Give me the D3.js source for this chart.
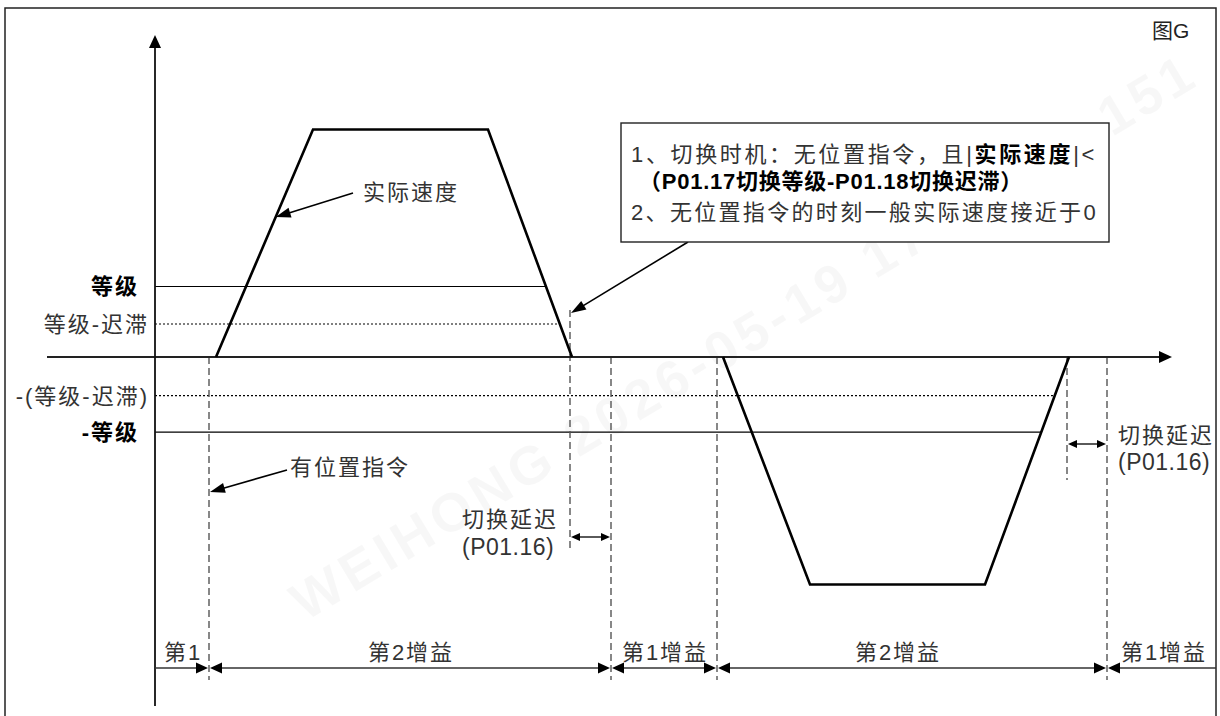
<!DOCTYPE html>
<html><head><meta charset="utf-8">
<script src="https://cdn.jsdelivr.net/npm/d3@7"></script>
<style>
html,body{margin:0;padding:0;background:#fff;}
svg{display:block;}
text{font-family:"Liberation Sans","Noto Sans CJK SC",sans-serif;}
</style></head><body>
<svg id="c" width="1220" height="716"></svg>
<script>
// ---------------- data ----------------
const speedPositive = [[6.1,0],[15.8,100],[33.3,100],[41.7,0]];
const speedNegative = [[56.8,0],[65.5,-100],[83.0,-100],[91.4,0]];
const levelValues  = [31, 14.5, -17, -33];
const levelLabels  = ["等级","等级-迟滞","-(等级-迟滞)","-等级"];
const levelBold    = [true,false,false,true];
const levelDotted  = [false,true,true,false];
const eventTimes   = [5.4, 41.5, 45.6, 56.2, 91.2, 95.2];
const gainBounds   = [0, 5.4, 45.6, 56.2, 95.2, 106.1];
const gainLabels   = ["第1","第2增益","第1增益","第2增益","第1增益"];
const gainLabelTimes = [2.7, 25.5, 50.9, 74.2, 100.8];
const delaySpans   = [[41.5,45.6],[91.2,95.2]];
const delayLabel   = ["切换延迟","(P01.16)"];
const noteLines    = [
  [["1、切换时机：无位置指令，且|",false],["实际速度",true],["|<",false]],
  [["（P01.17切换等级-P01.18切换迟滞）",true]],
  [["2、无位置指令的时刻一般实际速度接近于0",false]]
];
const speedLabel = "实际速度";
const cmdLabel = "有位置指令";
const figLabel = "图G";
const watermarkText = "WEIHONG 2026-05-19 17:26:46.151";

// ---------------- layout ----------------
const svg = d3.select("#c");
const x = d3.scaleLinear().domain([0,100]).range([155,1155]);
const y = d3.scaleLinear().domain([-100,100]).range([584.5,129.5]);
const TXT = "#333";

function head(g, tip, from, len, hw){
  const dx = tip[0]-from[0], dy = tip[1]-from[1];
  const L = Math.hypot(dx,dy), ux = dx/L, uy = dy/L, nx = -uy, ny = ux;
  const bx = tip[0]-len*ux, by = tip[1]-len*uy;
  g.append("path").attr("d",`M${tip[0]},${tip[1]}L${bx+hw*nx},${by+hw*ny}L${bx-hw*nx},${by-hw*ny}Z`).attr("fill","#000");
}
function arrow(g, from, tip, len, hw, sw){
  const dx = tip[0]-from[0], dy = tip[1]-from[1], L=Math.hypot(dx,dy);
  const end = [tip[0]-dx/L*(len-2), tip[1]-dy/L*(len-2)];
  g.append("line").attr("x1",from[0]).attr("y1",from[1]).attr("x2",end[0]).attr("y2",end[1])
    .attr("stroke","#000").attr("stroke-width",sw);
  head(g, tip, from, len, hw);
}

// watermark (very faint)
svg.append("text").attr("transform","translate(305,622) rotate(-31)")
  .attr("fill","#000").attr("fill-opacity",0.03)
  .attr("font-size",54).attr("font-weight","bold").attr("letter-spacing",5)
  .text(watermarkText);

// outer border
svg.append("rect").attr("x",5).attr("y",8).attr("width",1211).attr("height",760)
  .attr("fill","none").attr("stroke","#222").attr("stroke-width",1.5);

// level lines (end where curve crosses them last)
const curves = [speedPositive, speedNegative];
function lastCross(v){
  let best = 0;
  curves.forEach(c=>{
    for(let i=0;i<c.length-1;i++){
      const [t0,v0]=c[i],[t1,v1]=c[i+1];
      if((v-v0)*(v-v1)<=0 && v0!==v1){
        const t = t0+(v-v0)/(v1-v0)*(t1-t0);
        if(t>best) best=t;
      }
    }
  });
  return best;
}
const lv = svg.append("g");
levelValues.forEach((v,i)=>{
  lv.append("line").attr("x1",x(0)).attr("x2",x(lastCross(v)))
    .attr("y1",y(v)).attr("y2",y(v)).attr("stroke","#000")
    .attr("stroke-width",levelDotted[i]?1.2:1.1)
    .attr("stroke-dasharray",levelDotted[i]?"2,2":null);
  const isNorm = !levelBold[i];
  lv.append("text").attr("x", isNorm?149:139).attr("y",y(v)).attr("dy","0.36em")
    .attr("text-anchor","end").attr("font-size",22).attr("letter-spacing",2)
    .attr("font-weight",levelBold[i]?"bold":"normal").attr("fill",levelBold[i]?"#000":TXT)
    .text(levelLabels[i]);
});

// event dashed verticals
const evTop = [y(0), 310, y(0), y(0), y(0), y(0)];
const evBot = [680, 548, 680, 680, 480, 680];
svg.append("g").selectAll("line").data(eventTimes).join("line")
  .attr("x1",d=>x(d)).attr("x2",d=>x(d))
  .attr("y1",(d,i)=>evTop[i]).attr("y2",(d,i)=>evBot[i])
  .attr("stroke","#555").attr("stroke-width",1.4).attr("stroke-dasharray","7,4");

// axes
const ax = svg.append("g");
ax.append("line").attr("x1",47).attr("x2",x(100.5)).attr("y1",y(0)).attr("y2",y(0))
  .attr("stroke","#222").attr("stroke-width",2);
head(ax,[1172,y(0)],[47,y(0)],13,6);
ax.append("line").attr("x1",x(0)).attr("x2",x(0)).attr("y1",706).attr("y2",46)
  .attr("stroke","#111").attr("stroke-width",1.8);
head(ax,[x(0),35],[x(0),706],13,6);

// speed curves
const line = d3.line().x(d=>x(d[0])).y(d=>y(d[1]));
svg.append("g").selectAll("path").data(curves).join("path")
  .attr("d",line).attr("fill","none").attr("stroke","#000")
  .attr("stroke-width",2.6).attr("stroke-linejoin","miter");

// gain arrows row
const gy = 668;
const gr = svg.append("g");
for(let i=0;i<gainLabels.length;i++){
  const a = x(gainBounds[i]), b = x(gainBounds[i+1]);
  const first = i===0, last = i===gainLabels.length-1;
  gr.append("line").attr("x1",first?a:a+10).attr("x2",last?b:b-10)
    .attr("y1",gy).attr("y2",gy).attr("stroke","#333").attr("stroke-width",1.5);
  if(!last) head(gr,[b-1,gy],[a,gy],12,5.5);
  if(!first) head(gr,[a+1,gy],[b,gy],12,5.5);
  gr.append("text").attr("x",x(gainLabelTimes[i])+1).attr("y",660)
    .attr("text-anchor","middle").attr("font-size",22).attr("letter-spacing",2)
    .attr("fill",TXT).text(gainLabels[i]);
}

// delay arrows & labels
const delayY = [537, 444];
const dg = svg.append("g");
delaySpans.forEach((s,i)=>{
  const a = x(s[0]), b = x(s[1]), yy = delayY[i];
  dg.append("line").attr("x1",a+6).attr("x2",b-6).attr("y1",yy).attr("y2",yy)
    .attr("stroke","#000").attr("stroke-width",1.3);
  head(dg,[a+1,yy],[b,yy],9,4);
  head(dg,[b-1,yy],[a,yy],9,4);
});
const dlPos = [[462,519,547],[1118,435,462]];
dlPos.forEach(p=>{
  dg.append("text").attr("x",p[0]).attr("y",p[1]).attr("dy","0.36em").attr("font-size",22)
    .attr("letter-spacing",2).attr("fill",TXT).text(delayLabel[0]);
  dg.append("text").attr("x",p[0]).attr("y",p[2]).attr("dy","0.36em").attr("font-size",23)
    .attr("letter-spacing",0.5).attr("fill",TXT).text(delayLabel[1]);
});

// annotations
const an = svg.append("g");
arrow(an,[353,193],[x(12.07),y(61.5)],15,5,1.6);
an.append("text").attr("x",363).attr("y",192).attr("dy","0.36em").attr("font-size",22)
  .attr("letter-spacing",2).attr("fill",TXT).text(speedLabel);
arrow(an,[287,470],[x(5.5),492],15,5,1.6);
an.append("text").attr("x",290).attr("y",467).attr("dy","0.36em").attr("font-size",22)
  .attr("letter-spacing",2).attr("fill",TXT).text(cmdLabel);
arrow(an,[688,242],[x(41.6),y(19.3)],15,5,1.6);

// note box
an.append("rect").attr("x",621).attr("y",123).attr("width",488).attr("height",119)
  .attr("fill","#fff").attr("stroke","#222").attr("stroke-width",1.4);
const nx = [631,639,631], nyb = [162,189,220], nw = [466,384,467];
noteLines.forEach((ln,i)=>{
  const t = an.append("text").attr("x",nx[i]).attr("y",nyb[i]).attr("font-size",22).attr("fill",TXT);
  ln.forEach(seg=>{
    t.append("tspan").attr("font-weight",seg[1]?"bold":"normal").attr("fill",seg[1]?"#000":TXT).text(seg[0]);
  });
  const w = t.node().getComputedTextLength();
  const n = ln.map(s=>s[0]).join("").length;
  t.attr("letter-spacing",(nw[i]-w)/n);
});

// figure label
svg.append("text").attr("x",1152).attr("y",38).attr("font-size",21).attr("fill","#222").text(figLabel);
</script>
</body></html>
